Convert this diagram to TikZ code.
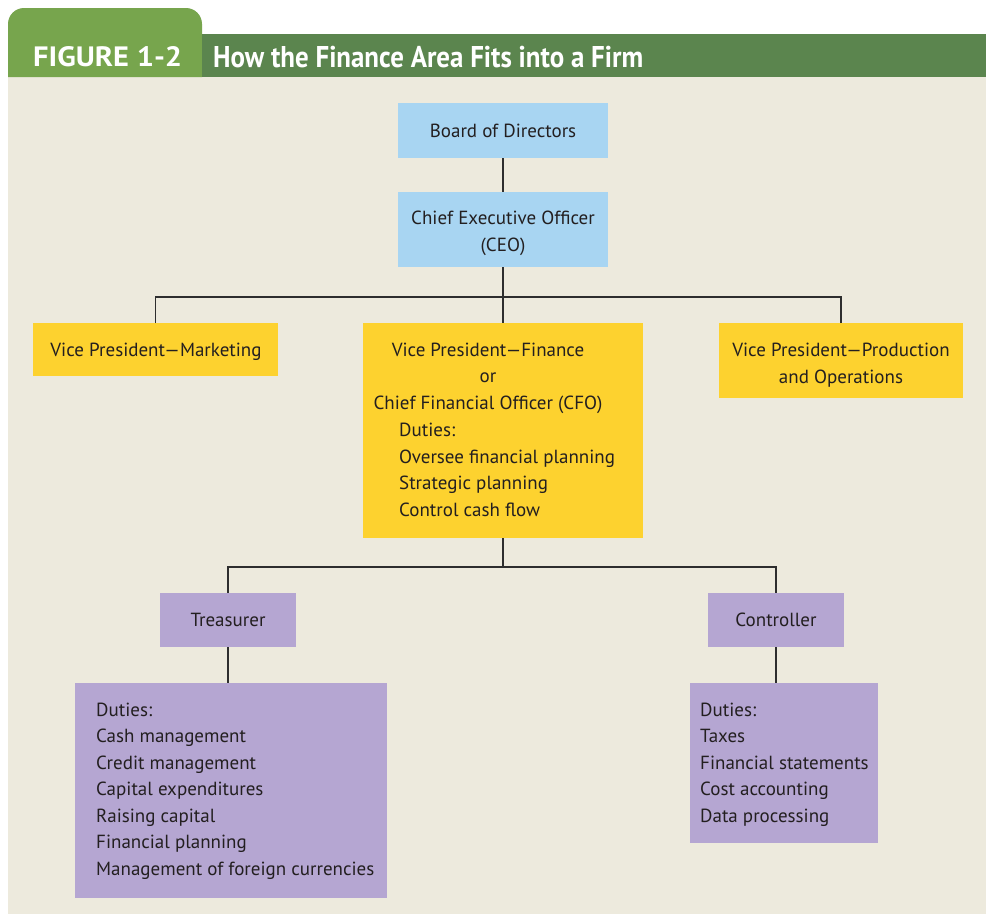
\documentclass[tikz,border=0pt]{standalone}
\usepackage{fontspec}
\usepackage{graphicx}
\setmainfont{PT Sans}
\definecolor{bgbeige}{HTML}{EDEADD}
\definecolor{tabgreen}{HTML}{77A54D}
\definecolor{bargreen}{HTML}{5B854E}
\definecolor{boxblue}{HTML}{A8D5F2}
\definecolor{boxyellow}{HTML}{FDD22F}
\definecolor{boxpurple}{HTML}{B5A6D2}
\definecolor{linegray}{HTML}{2E2E2E}
\definecolor{txt}{HTML}{231F20}
\tikzset{
  box/.style={draw=none, inner sep=0pt, outer sep=0pt, anchor=north west},
  bluebox/.style={box, fill=boxblue},
  yelbox/.style={box, fill=boxyellow},
  purbox/.style={box, fill=boxpurple},
  lbl/.style={inner sep=0pt, text=txt, font=\fontsize{19}{26.5}\selectfont},
  conn/.style={draw=linegray, line width=1.3pt},
}
\begin{document}
\begin{tikzpicture}[x=1pt, y=-1pt]
\useasboundingbox (0,0) rectangle (986,914);
% background and header
\fill[white] (0,0) rectangle (986,914);
\fill[bgbeige] (8,77) rectangle (986,914);
\fill[tabgreen] (8,77) -- (8,24) arc[start angle=180, end angle=270, radius=16] -- (186,8) arc[start angle=270, end angle=360, radius=16] -- (202,77) -- cycle;
\fill[bargreen] (202,34) rectangle (986,77);
\node[anchor=base west, inner sep=0pt, text=white, font=\fontsize{28}{28}\selectfont\bfseries] (fig) at (33,66) {\resizebox{149pt}{\height}{FIGURE 1-2}};
\node[anchor=base west, inner sep=0pt, text=white, font=\fontsize{30}{30}\selectfont\bfseries] (title) at (213,67) {\resizebox{430pt}{\height}{How the Finance Area Fits into a Firm}};

% boxes
\node[bluebox, minimum width=210pt, minimum height=55pt] (board) at (398,103) {};
\node[bluebox, minimum width=210pt, minimum height=75pt] (ceo) at (398,192) {};
\node[yelbox, minimum width=245pt, minimum height=53pt] (mkt) at (33,323) {};
\node[yelbox, minimum width=280pt, minimum height=215pt] (fin) at (363,323) {};
\node[yelbox, minimum width=244pt, minimum height=75pt] (prod) at (719,323) {};
\node[purbox, minimum width=136pt, minimum height=54pt] (treas) at (160,593) {};
\node[purbox, minimum width=136pt, minimum height=54pt] (ctrl) at (708,593) {};
\node[purbox, minimum width=312pt, minimum height=215pt] (tduty) at (75,683) {};
\node[purbox, minimum width=188pt, minimum height=160pt] (cduty) at (690,683) {};

% texts (anchor=base refers to the last line of a multi-line node)
\node[lbl, anchor=base] (tboard) at (503,137) {Board of Directors};
\node[lbl, anchor=base, align=center] (tceo) at (503,251) {Chief Executive Officer\\(CEO)};
\node[lbl, anchor=base] (tmkt) at (156,356) {Vice President---Marketing};
\node[lbl, anchor=base, align=center] (tprod) at (841,383) {Vice President---Production\\and Operations};
\node[lbl, anchor=base, align=center] (tfin) at (488,409) {Vice President---Finance\\or\\Chief Financial Officer (CFO)};
\node[lbl, anchor=base west, align=left] (tfind) at (399,516) {Duties:\\Oversee financial planning\\Strategic planning\\Control cash flow};
\node[lbl, anchor=base] (ttreas) at (228,626) {Treasurer};
\node[lbl, anchor=base] (tctrl) at (776,626) {Controller};
\node[lbl, anchor=base west, align=left] (ttd) at (96,875) {Duties:\\Cash management\\Credit management\\Capital expenditures\\Raising capital\\Financial planning\\Management of foreign currencies};
\node[lbl, anchor=base west, align=left] (tcd) at (700,822) {Duties:\\Taxes\\Financial statements\\Cost accounting\\Data processing};

% connectors
\coordinate (j1) at (503,297);
\coordinate (j2) at (503,567);
\draw[conn] (board.south) -- (ceo.north);
\draw[conn] (ceo.south) -- (j1);
\draw[conn] (mkt.north) |- (j1) -| (prod.north);
\draw[conn] (j1) -- (fin.north);
\draw[conn] (fin.south) -- (j2);
\draw[conn] (treas.north) |- (j2) -| (ctrl.north);
\draw[conn] (treas.south) -- (treas.south |- tduty.north);
\draw[conn] (ctrl.south) -- (ctrl.south |- cduty.north);
\end{tikzpicture}
\end{document}
